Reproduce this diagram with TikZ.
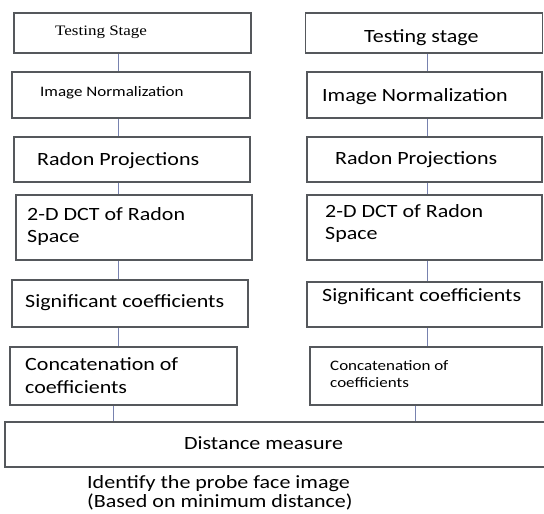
\documentclass[tikz,border=0pt]{standalone}
\usepackage{fontspec}
\setmainfont{Carlito}
\newfontfamily\stageserif{Liberation Serif}
\definecolor{linkblue}{RGB}{120,130,175}
\definecolor{boxgray}{RGB}{85,88,92}
\tikzset{
  stagebox/.style={draw=boxgray,line width=1.6pt,inner sep=0pt},
  txt/.style={anchor=west,inner sep=0pt,align=left,font=\fontsize{22}{27}\selectfont,yscale=0.85},
  smalltxt/.style={txt,font=\fontsize{17}{21}\selectfont},
  link/.style={draw=linkblue,line width=1pt}
}
\begin{document}
\begin{tikzpicture}[x=1pt,y=-1pt]
\useasboundingbox (0,0) rectangle (544,514);
% left column
\node[stagebox,minimum width=237pt,minimum height=40pt] (l1) at (132.5,33) {};
\node[stagebox,minimum width=238pt,minimum height=46pt] (l2) at (131,95) {};
\node[stagebox,minimum width=236pt,minimum height=45pt] (l3) at (132,159.5) {};
\node[stagebox,minimum width=236pt,minimum height=65pt] (l4) at (134,227.5) {};
\node[stagebox,minimum width=236pt,minimum height=47pt] (l5) at (130,303.5) {};
\node[stagebox,minimum width=227pt,minimum height=58pt] (l6) at (123.5,376) {};
\node[smalltxt,font=\stageserif\fontsize{17}{21}\selectfont] (lt1) at (55,32) {Testing Stage};
\node[smalltxt] (lt2) at (40,93) {Image Normalization};
\node[txt] (lt3) at (37,161) {Radon Projections};
\node[txt] (lt4) at (27,226.5) {2-D DCT of Radon\\Space};
\node[txt] (lt5) at (25,303) {Significant coefficients};
\node[txt] (lt6) at (25,376) {Concatenation of\\coefficients};
% right column
\node[stagebox,minimum width=237pt,minimum height=40pt] (r1) at (424,33) {};
\node[stagebox,minimum width=235pt,minimum height=46pt] (r2) at (424.5,95) {};
\node[stagebox,minimum width=235pt,minimum height=45pt] (r3) at (424.5,159.5) {};
\node[stagebox,minimum width=235pt,minimum height=65pt] (r4) at (424.5,227.5) {};
\node[stagebox,minimum width=235pt,minimum height=45pt] (r5) at (424.5,304.5) {};
\node[stagebox,minimum width=232pt,minimum height=58pt] (r6) at (426,376) {};
\node[txt] (rt1) at (364,38) {Testing stage};
\node[txt] (rt2) at (322,97) {Image Normalization};
\node[txt] (rt3) at (335,160) {Radon Projections};
\node[txt] (rt4) at (325,223.5) {2-D DCT of Radon\\Space};
\node[txt] (rt5) at (322,297) {Significant coefficients};
\node[smalltxt] (rt6) at (330,374) {Concatenation of\\coefficients};
% common part
\node[stagebox,minimum width=543pt,minimum height=45pt] (dist) at (276.5,444.5) {};
\node[txt,anchor=center] (distt) at (263.5,443) {Distance measure};
\node[txt,font=\fontsize{22}{22.5}\selectfont] (probe) at (87,492.5) {Identify the probe face image\\(Based on minimum distance)};
\coordinate (lx) at (118,0);
\coordinate (rx) at (427,0);
\coordinate (lx2) at (113,0);
\coordinate (rx2) at (415,0);
\foreach \a/\b in {l1/l2,l2/l3,l3/l4,l4/l5,l5/l6}
  \draw[link] (\a.south -| lx) -- (\b.north -| lx);
\foreach \a/\b in {r1/r2,r2/r3,r3/r4,r4/r5,r5/r6}
  \draw[link] (\a.south -| rx) -- (\b.north -| rx);
\draw[link] (l6.south -| lx2) -- (dist.north -| lx2);
\draw[link] (r6.south -| rx2) -- (dist.north -| rx2);
\end{tikzpicture}
\end{document}
